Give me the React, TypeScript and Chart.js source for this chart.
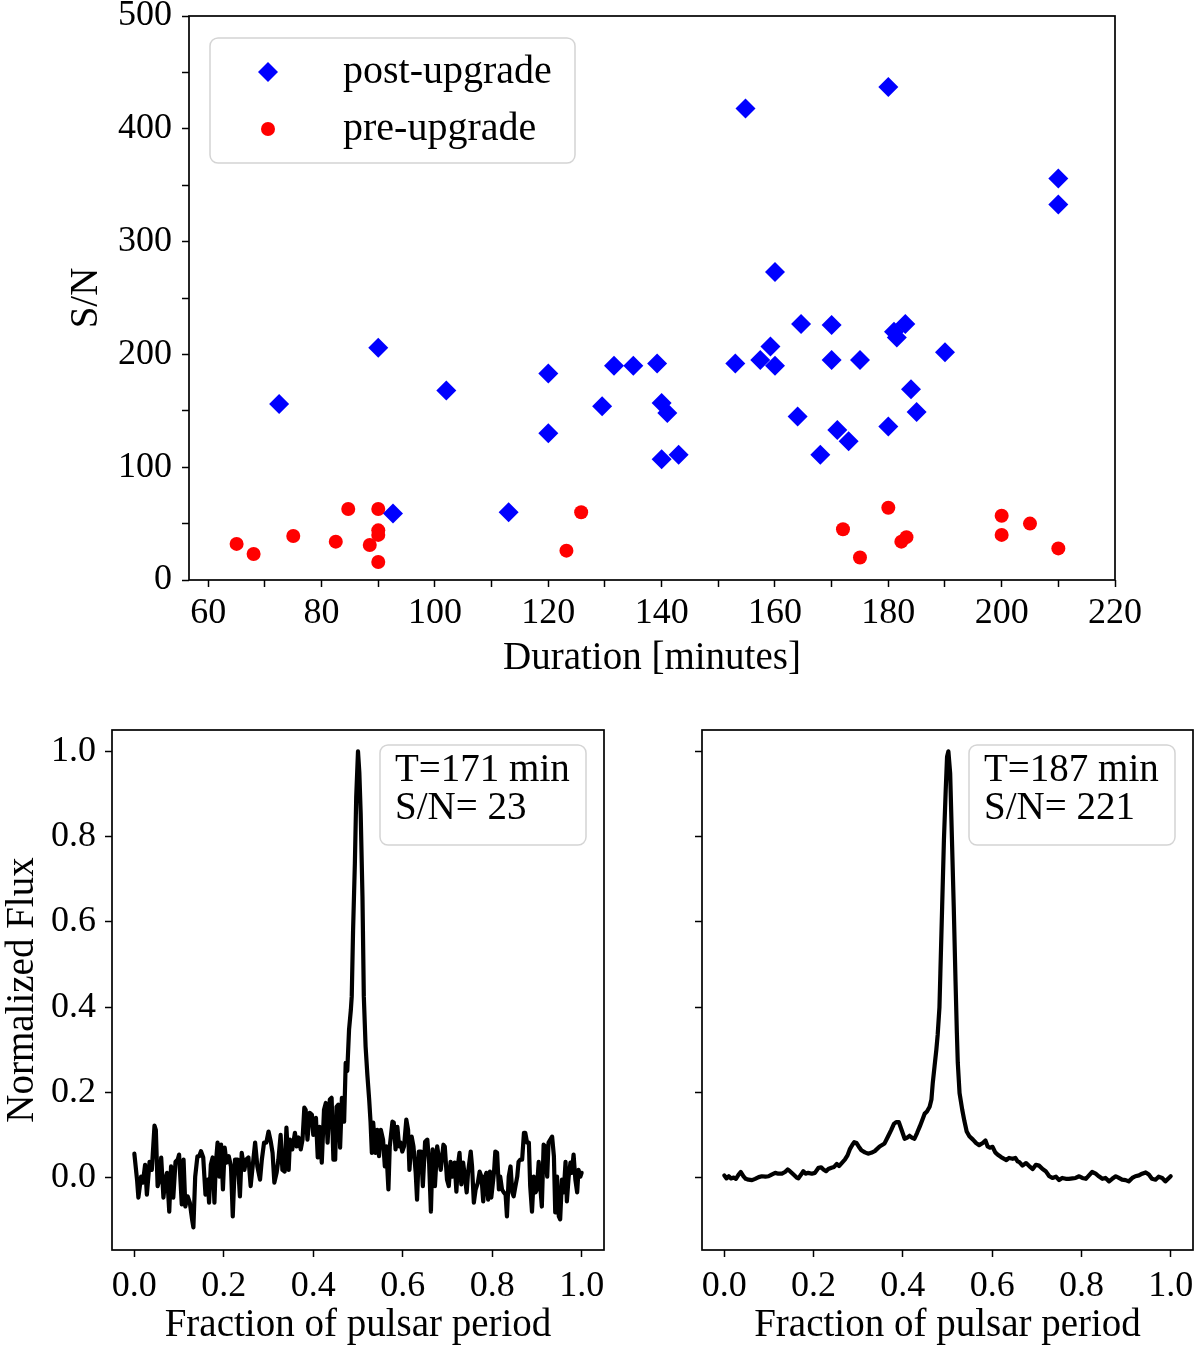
import React, { useEffect, useRef } from "react";
import { Chart, registerables } from "chart.js";
Chart.register(...registerables);

const FONT = "'Liberation Serif', 'DejaVu Serif', serif";
const FS = 36; // tick labels
const FT = 39; // titles and inset text
const FL = 40; // legend text

// ---------- top panel data ----------
const postDuration = [72.5, 90, 102, 92.6, 113, 120, 120, 129.5, 131.6, 135, 139.2, 140, 141, 140, 143, 154.8, 180, 210, 210, 160, 164.6, 170, 183, 181, 181.5, 190, 159.2, 157.4, 160, 153, 170, 175, 164, 184, 185, 180, 171, 173, 168];
const postSN = [156, 206, 168, 59, 60, 183, 130, 154, 190, 190, 192, 157, 148, 107, 111, 418, 437, 356, 333, 273, 227, 226, 227, 220, 215, 202, 207, 195, 190, 192, 195, 195, 145, 169, 149, 136, 133, 123, 111];
const preDuration = [65, 68, 75, 82.5, 84.7, 90, 90, 90, 88.5, 90, 123.2, 125.8, 172, 175, 180, 183.2, 182.3, 200, 200, 205, 210];
const preSN = [32, 23, 39, 34, 63, 63, 44, 40, 31, 16, 26, 60, 45, 20, 64, 38, 34, 57, 40, 50, 28];
const seriesLabels = ["post-upgrade", "pre-upgrade"];

const topXTicks = [60, 70, 80, 90, 100, 110, 120, 130, 140, 150, 160, 170, 180, 190, 200, 210, 220];
const topXLabels = [60, 80, 100, 120, 140, 160, 180, 200, 220];
const topYTicks = [0, 50, 100, 150, 200, 250, 300, 350, 400, 450, 500];
const topYLabels = [0, 100, 200, 300, 400, 500];

// ---------- bottom panels data: [phase, normalized flux] ----------
const profileLeft: [number, number][] = [
  [0.000,0.056],[0.006,-0.005],[0.009,-0.047],[0.015,0.002],[0.019,-0.012],[0.024,0.030],[0.028,-0.040],[0.034,0.037],[0.039,0.018],[0.045,0.122],
  [0.048,0.112],[0.052,-0.020],[0.056,-0.005],[0.060,0.047],[0.065,-0.047],[0.069,-0.005],[0.073,0.011],[0.078,-0.080],[0.082,0.026],[0.087,-0.047],
  [0.092,0.037],[0.097,0.042],[0.100,0.054],[0.106,-0.063],[0.110,0.042],[0.114,-0.068],[0.119,-0.044],[0.124,-0.059],[0.129,-0.098],[0.132,-0.117],
  [0.136,0.002],[0.141,0.050],[0.145,0.050],[0.149,0.062],[0.154,0.047],[0.159,-0.040],[0.164,-0.005],[0.167,-0.059],[0.171,0.030],[0.175,0.047],
  [0.179,-0.059],[0.182,0.030],[0.186,0.082],[0.190,0.002],[0.194,0.077],[0.198,-0.028],[0.202,0.070],[0.206,0.035],[0.211,0.050],[0.216,0.026],
  [0.220,-0.091],[0.225,0.042],[0.231,0.042],[0.236,-0.044],[0.240,0.058],[0.246,0.018],[0.250,0.042],[0.255,0.047],[0.260,-0.020],[0.266,0.042],
  [0.270,0.082],[0.275,0.026],[0.281,-0.005],[0.285,0.042],[0.290,0.082],[0.295,0.082],[0.300,0.108],[0.305,0.084],[0.309,0.058],[0.313,-0.012],
  [0.318,0.011],[0.322,0.042],[0.327,0.100],[0.331,0.018],[0.336,0.014],[0.340,0.117],[0.345,0.018],[0.348,0.089],[0.353,0.066],[0.359,0.105],
  [0.363,0.073],[0.367,0.094],[0.372,0.066],[0.376,0.089],[0.380,0.164],[0.383,0.159],[0.387,0.089],[0.392,0.152],[0.397,0.147],[0.400,0.100],
  [0.406,0.140],[0.410,0.047],[0.414,0.119],[0.419,0.035],[0.424,0.159],[0.428,0.175],[0.432,0.082],[0.437,0.183],[0.441,0.187],[0.445,0.042],
  [0.449,0.042],[0.452,0.166],[0.456,0.171],[0.460,0.070],[0.464,0.187],[0.469,0.131],[0.4725,0.269],[0.476,0.250],[0.480,0.347],[0.484,0.393],
  [0.486,0.425],[0.489,0.580],[0.493,0.737],[0.496,0.893],[0.500,1.000],[0.503,0.950],[0.506,0.854],[0.510,0.659],[0.513,0.425],[0.517,0.307],
  [0.521,0.240],[0.525,0.183],[0.528,0.131],[0.531,0.058],[0.534,0.129],[0.539,0.058],[0.543,0.112],[0.547,0.050],[0.551,0.112],[0.556,0.089],
  [0.560,0.026],[0.563,0.073],[0.568,-0.028],[0.571,0.073],[0.577,0.131],[0.580,0.129],[0.584,0.066],[0.588,0.119],[0.592,0.073],[0.595,0.082],
  [0.599,0.061],[0.603,0.073],[0.608,0.136],[0.612,0.112],[0.615,0.018],[0.620,0.096],[0.624,0.073],[0.629,0.011],[0.632,-0.052],[0.636,0.061],
  [0.641,0.061],[0.645,-0.020],[0.650,0.084],[0.655,0.089],[0.659,0.035],[0.663,-0.080],[0.667,0.066],[0.672,-0.020],[0.677,0.073],[0.685,0.018],
  [0.691,0.077],[0.694,0.073],[0.699,-0.005],[0.703,-0.020],[0.707,0.037],[0.711,0.002],[0.716,0.035],[0.720,-0.033],[0.723,0.026],[0.727,0.058],
  [0.731,-0.016],[0.735,0.035],[0.739,0.002],[0.743,-0.035],[0.746,0.011],[0.752,0.061],[0.755,0.026],[0.759,-0.059],[0.763,-0.028],[0.768,-0.012],
  [0.772,0.014],[0.776,0.002],[0.780,-0.056],[0.784,0.002],[0.787,0.011],[0.791,-0.052],[0.795,0.014],[0.798,-0.047],[0.804,0.011],[0.807,0.061],
  [0.811,0.058],[0.815,-0.028],[0.818,0.002],[0.822,-0.028],[0.826,-0.035],[0.830,-0.040],[0.833,-0.091],[0.837,0.002],[0.841,0.026],[0.845,-0.035],
  [0.848,-0.044],[0.852,-0.020],[0.856,0.002],[0.859,0.037],[0.863,0.042],[0.867,0.042],[0.871,0.105],[0.874,0.105],[0.878,0.082],[0.882,0.082],
  [0.885,-0.020],[0.889,-0.080],[0.893,0.002],[0.897,-0.035],[0.900,-0.028],[0.904,0.037],[0.908,-0.028],[0.911,-0.068],[0.915,0.077],[0.919,0.073],
  [0.923,0.002],[0.926,0.082],[0.930,0.089],[0.934,0.096],[0.938,0.050],[0.941,-0.082],[0.945,0.002],[0.949,-0.091],[0.952,-0.098],[0.956,-0.005],
  [0.960,-0.035],[0.964,0.037],[0.967,-0.056],[0.971,0.002],[0.975,0.035],[0.978,0.011],[0.982,0.054],[0.986,-0.005],[0.990,-0.035],[0.993,0.018],
  [0.997,0.002],[1.000,0.011],
];

const profileRight: [number, number][] = [
  [0.000,0.005],[0.005,-0.002],[0.010,0.003],[0.015,-0.002],[0.021,0.000],[0.026,-0.003],[0.032,0.007],[0.037,0.013],[0.043,0.003],[0.048,-0.003],
  [0.054,-0.005],[0.062,-0.006],[0.069,-0.003],[0.077,0.001],[0.084,0.003],[0.092,0.002],[0.099,0.003],[0.106,0.007],[0.114,0.011],[0.121,0.009],
  [0.129,0.009],[0.136,0.013],[0.142,0.019],[0.147,0.015],[0.155,0.007],[0.162,0.000],[0.166,-0.002],[0.172,0.007],[0.177,0.015],[0.182,0.009],
  [0.188,0.011],[0.196,0.009],[0.203,0.011],[0.211,0.023],[0.217,0.024],[0.222,0.019],[0.228,0.015],[0.233,0.020],[0.240,0.023],[0.246,0.025],
  [0.252,0.032],[0.257,0.027],[0.263,0.034],[0.270,0.042],[0.276,0.052],[0.281,0.066],[0.287,0.077],[0.291,0.083],[0.296,0.081],[0.301,0.073],
  [0.307,0.064],[0.315,0.059],[0.322,0.056],[0.329,0.058],[0.337,0.062],[0.348,0.073],[0.359,0.080],[0.367,0.097],[0.374,0.112],[0.380,0.126],
  [0.385,0.130],[0.391,0.130],[0.397,0.112],[0.404,0.091],[0.409,0.093],[0.415,0.098],[0.421,0.093],[0.426,0.091],[0.432,0.105],[0.438,0.120],
  [0.444,0.136],[0.449,0.150],[0.454,0.155],[0.460,0.166],[0.464,0.183],[0.467,0.222],[0.471,0.261],[0.475,0.300],[0.478,0.335],[0.482,0.400],
  [0.484,0.479],[0.488,0.635],[0.492,0.792],[0.496,0.909],[0.499,0.987],[0.502,1.000],[0.506,0.948],[0.510,0.792],[0.514,0.635],[0.518,0.460],
  [0.521,0.339],[0.523,0.270],[0.527,0.198],[0.533,0.159],[0.538,0.132],[0.543,0.108],[0.549,0.097],[0.557,0.089],[0.564,0.081],[0.571,0.076],
  [0.579,0.081],[0.585,0.087],[0.590,0.073],[0.595,0.070],[0.601,0.072],[0.607,0.059],[0.612,0.054],[0.620,0.048],[0.627,0.044],[0.632,0.041],
  [0.638,0.046],[0.646,0.044],[0.652,0.046],[0.657,0.038],[0.661,0.036],[0.668,0.028],[0.676,0.034],[0.683,0.027],[0.691,0.020],[0.698,0.030],
  [0.705,0.028],[0.713,0.020],[0.720,0.015],[0.728,0.003],[0.735,-0.001],[0.743,0.002],[0.750,-0.006],[0.757,-0.001],[0.765,-0.003],[0.772,-0.003],
  [0.780,-0.002],[0.787,-0.001],[0.795,0.003],[0.802,-0.001],[0.810,-0.003],[0.817,0.005],[0.824,0.013],[0.832,0.009],[0.839,0.003],[0.847,-0.003],
  [0.854,-0.001],[0.862,-0.009],[0.869,-0.003],[0.877,0.003],[0.884,-0.001],[0.891,-0.005],[0.899,-0.006],[0.906,-0.009],[0.914,-0.001],[0.921,0.003],
  [0.929,0.005],[0.936,0.009],[0.944,0.012],[0.951,0.007],[0.958,-0.003],[0.966,-0.005],[0.973,0.002],[0.981,-0.001],[0.988,-0.009],[0.996,-0.001],
  [1.000,0.003],
];

const insetLeft = ["T=171 min", "S/N= 23"];
const insetRight = ["T=187 min", "S/N= 221"];

const profXTicks = [0, 0.2, 0.4, 0.6, 0.8, 1.0];
const profYTicks = [0, 0.2, 0.4, 0.6, 0.8, 1.0];

// ---------- plugins ----------
const framePlugin = {
  id: "frame",
  afterDraw(chart: any) {
    const { ctx, chartArea: a } = chart;
    ctx.save();
    ctx.strokeStyle = "#000";
    ctx.lineWidth = 1.7;
    ctx.strokeRect(a.left, a.top, a.right - a.left, a.bottom - a.top);
    ctx.restore();
  },
};

function roundRect(ctx: CanvasRenderingContext2D, x: number, y: number, w: number, h: number, r: number) {
  ctx.beginPath();
  ctx.moveTo(x + r, y);
  ctx.lineTo(x + w - r, y);
  ctx.arcTo(x + w, y, x + w, y + r, r);
  ctx.lineTo(x + w, y + h - r);
  ctx.arcTo(x + w, y + h, x + w - r, y + h, r);
  ctx.lineTo(x + r, y + h);
  ctx.arcTo(x, y + h, x, y + h - r, r);
  ctx.lineTo(x, y + r);
  ctx.arcTo(x, y, x + r, y, r);
  ctx.closePath();
}

const legendPlugin = {
  id: "insetLegend",
  afterDraw(chart: any) {
    const { ctx, chartArea: a } = chart;
    const bx = a.left + 21, by = a.top + 22, bw = 365, bh = 125;
    ctx.save();
    roundRect(ctx, bx, by, bw, bh, 8);
    ctx.fillStyle = "rgba(255,255,255,0.8)";
    ctx.fill();
    ctx.strokeStyle = "#d4d4d4";
    ctx.lineWidth = 1.5;
    ctx.stroke();
    chart.data.datasets.forEach((ds: any, i: number) => {
      const mx = bx + 58, my = by + 34 + i * 57;
      ctx.fillStyle = ds.backgroundColor;
      ctx.beginPath();
      if (ds.pointStyle === "rectRot") {
        const r = ds.pointRadius;
        ctx.moveTo(mx - r, my);
        ctx.lineTo(mx, my - r);
        ctx.lineTo(mx + r, my);
        ctx.lineTo(mx, my + r);
        ctx.closePath();
      } else {
        ctx.arc(mx, my, ds.pointRadius, 0, Math.PI * 2);
      }
      ctx.fill();
      ctx.fillStyle = "#000";
      ctx.font = `${FL}px ${FONT}`;
      ctx.textBaseline = "middle";
      ctx.textAlign = "left";
      ctx.fillText(ds.label, bx + 133, my);
    });
    ctx.restore();
  },
};

const insetTextPlugin = {
  id: "insetText",
  afterDraw(chart: any, _args: any, opts: any) {
    const lines: string[] = opts.lines || [];
    if (!lines.length) return;
    const { ctx, chartArea: a } = chart;
    const bw = 206, bh = 100;
    const bx = a.right - 18 - bw, by = a.top + 15;
    ctx.save();
    roundRect(ctx, bx, by, bw, bh, 8);
    ctx.fillStyle = "rgba(255,255,255,0.8)";
    ctx.fill();
    ctx.strokeStyle = "#d4d4d4";
    ctx.lineWidth = 1.5;
    ctx.stroke();
    ctx.fillStyle = "#000";
    ctx.font = `${FT}px ${FONT}`;
    ctx.textBaseline = "middle";
    ctx.textAlign = "left";
    lines.forEach((t, i) => ctx.fillText(t, bx + 15, by + 26 + i * 38));
    ctx.restore();
  },
};

Chart.defaults.font.family = FONT;
Chart.defaults.font.size = FS;
Chart.defaults.color = "#000";

const tickGrid = {
  drawOnChartArea: false,
  drawTicks: true,
  tickLength: 7,
  tickColor: "#000",
  tickWidth: 1.5,
};

function fixWidth(w: number) {
  return (s: any) => {
    s.width = w;
    s.paddingTop = 0;
    s.paddingBottom = 0;
  };
}
function fixHeight(h: number) {
  return (s: any) => {
    s.height = h;
    s.paddingLeft = 0;
    s.paddingRight = 0;
  };
}
function setTicks(vals: number[]) {
  return (s: any) => {
    s.ticks = vals.map((v) => ({ value: v }));
  };
}

function makeTop(): any {
  return {
    type: "scatter",
    data: {
      datasets: [
        {
          label: seriesLabels[0],
          data: postDuration.map((x, i) => ({ x, y: postSN[i] })),
          pointStyle: "rectRot",
          pointRadius: 10,
          pointHoverRadius: 10,
          backgroundColor: "#0000ff",
          borderColor: "#0000ff",
          borderWidth: 0,
        },
        {
          label: seriesLabels[1],
          data: preDuration.map((x, i) => ({ x, y: preSN[i] })),
          pointStyle: "circle",
          pointRadius: 7,
          pointHoverRadius: 7,
          backgroundColor: "#ff0000",
          borderColor: "#ff0000",
          borderWidth: 0,
        },
      ],
    },
    options: {
      responsive: false,
      animation: false,
      events: [],
      layout: { padding: { left: 40, top: 16, right: 85, bottom: 10 } },
      plugins: { legend: { display: false }, tooltip: { enabled: false } },
      scales: {
        x: {
          type: "linear",
          min: 56.6,
          max: 220,
          afterBuildTicks: setTicks(topXTicks),
          afterFit: fixHeight(110),
          ticks: {
            autoSkip: false,
            maxRotation: 0,
            minRotation: 0,
            padding: 5,
            color: "#000",
            font: { family: FONT, size: FS },
            callback: (v: number) => (topXLabels.includes(v) ? String(v) : ""),
          },
          grid: tickGrid,
          border: { display: false },
          title: {
            display: true,
            text: "Duration [minutes]",
            color: "#000",
            font: { family: FONT, size: FT },
            padding: { top: 0, bottom: 8 },
          },
        },
        y: {
          type: "linear",
          min: 0,
          max: 500,
          afterBuildTicks: setTicks(topYTicks),
          afterFit: fixWidth(149),
          ticks: {
            autoSkip: false,
            padding: 10,
            color: "#000",
            font: { family: FONT, size: FS },
            callback: (v: number) => (topYLabels.includes(v) ? String(v) : ""),
          },
          grid: tickGrid,
          border: { display: false },
          title: {
            display: true,
            text: "S/N",
            color: "#000",
            font: { family: FONT, size: FT },
            padding: { top: 23, bottom: 0 },
          },
        },
      },
    },
    plugins: [framePlugin, legendPlugin],
  };
}

function makeProfile(profile: [number, number][], lines: string[], showYLabels: boolean, yWidth: number, padRight: number): any {
  return {
    type: "scatter",
    data: {
      datasets: [
        {
          label: lines[0],
          data: profile.map(([x, y]) => ({ x, y })),
          showLine: true,
          borderColor: "#000",
          backgroundColor: "#000",
          borderWidth: 4.2,
          borderJoinStyle: "round",
          borderCapStyle: "round",
          pointRadius: 0,
          pointHoverRadius: 0,
          tension: 0,
        },
      ],
    },
    options: {
      responsive: false,
      animation: false,
      events: [],
      layout: { padding: { left: 0, top: 30, right: padRight, bottom: 0 } },
      plugins: { legend: { display: false }, tooltip: { enabled: false }, insetText: { lines } },
      scales: {
        x: {
          type: "linear",
          min: -0.05,
          max: 1.05,
          afterBuildTicks: setTicks(profXTicks),
          afterFit: fixHeight(97),
          ticks: {
            autoSkip: false,
            maxRotation: 0,
            minRotation: 0,
            padding: 8,
            color: "#000",
            font: { family: FONT, size: FS },
            callback: (v: number) => v.toFixed(1),
          },
          grid: tickGrid,
          border: { display: false },
          title: {
            display: true,
            text: "Fraction of pulsar period",
            color: "#000",
            font: { family: FONT, size: FT },
            padding: { top: 0, bottom: -2 },
          },
        },
        y: {
          type: "linear",
          min: -0.17,
          max: 1.05,
          afterBuildTicks: setTicks(profYTicks),
          afterFit: fixWidth(yWidth),
          ticks: {
            autoSkip: false,
            padding: 9,
            color: "#000",
            font: { family: FONT, size: FS },
            callback: (v: number) => (showYLabels ? v.toFixed(1) : ""),
          },
          grid: tickGrid,
          border: { display: false },
          title: {
            display: showYLabels,
            text: "Normalized Flux",
            color: "#000",
            font: { family: FONT, size: FT },
            padding: { top: -1, bottom: 0 },
          },
        },
      },
    },
    plugins: [framePlugin, insetTextPlugin],
  };
}

function ChartBox(props: { left: number; top: number; width: number; height: number; make: () => any }) {
  const ref = useRef<HTMLCanvasElement>(null);
  useEffect(() => {
    const chart = new Chart(ref.current as HTMLCanvasElement, props.make());
    return () => chart.destroy();
  }, []);
  return (
    <canvas
      ref={ref}
      width={props.width}
      height={props.height}
      style={{ position: "absolute", left: props.left, top: props.top, width: props.width, height: props.height }}
    />
  );
}

export default function App() {
  return (
    <div style={{ position: "absolute", left: 0, top: 0, width: 1200, height: 1347, background: "#fff" }}>
      <ChartBox left={0} top={0} width={1200} height={700} make={makeTop} />
      <ChartBox left={0} top={700} width={620} height={647} make={() => makeProfile(profileLeft, insetLeft, true, 112, 16)} />
      <ChartBox left={620} top={700} width={580} height={647} make={() => makeProfile(profileRight, insetRight, false, 82, 7)} />
    </div>
  );
}
